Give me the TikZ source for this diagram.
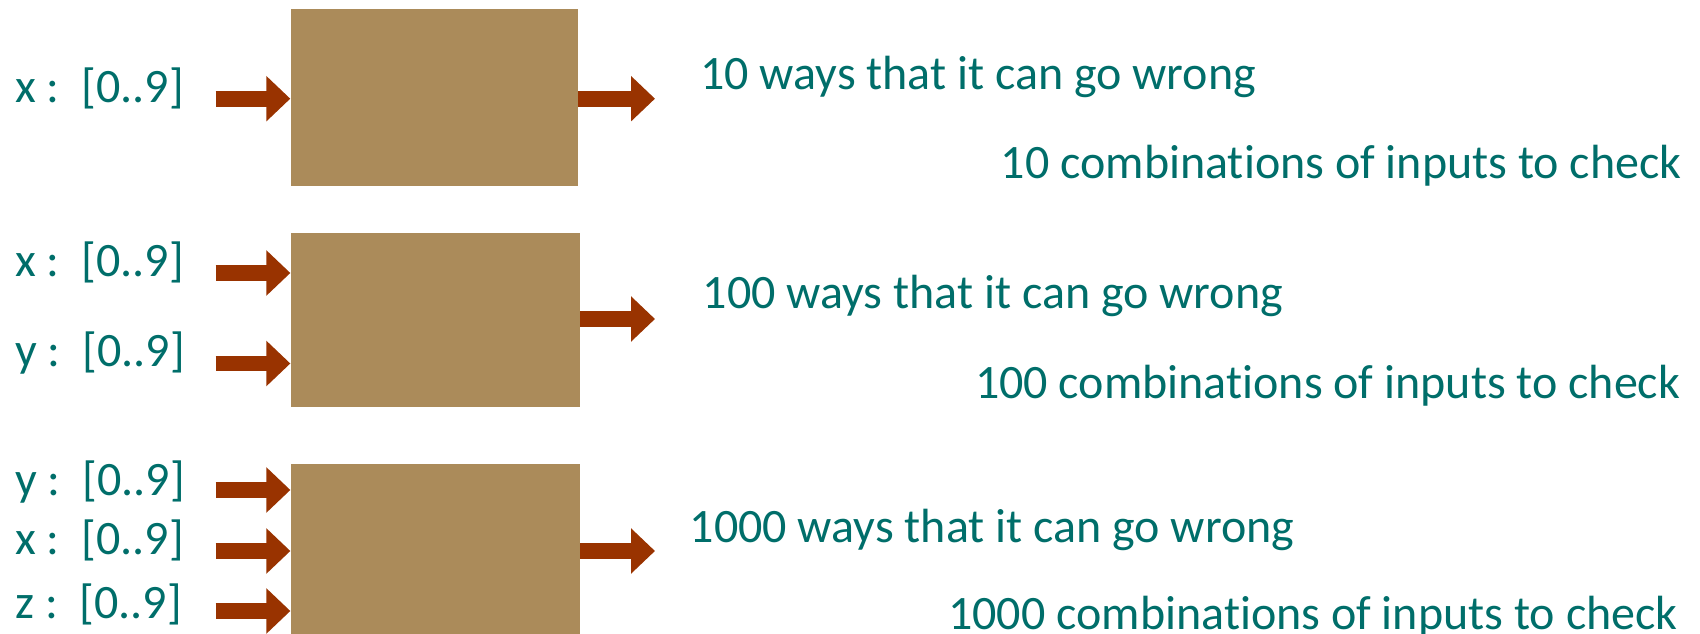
\documentclass[tikz,border=0pt]{standalone}
\usepackage{fontspec}
\setmainfont{Carlito}[Ligatures=NoCommon]
\usetikzlibrary{arrows.meta}
\definecolor{tealtext}{HTML}{006E6A}
\definecolor{boxfill}{HTML}{AB8B5A}
\definecolor{arrowred}{HTML}{993300}
\begin{document}
\begin{tikzpicture}[x=0.75pt,y=-0.75pt,
  box/.style={fill=boxfill, draw=none, inner sep=0pt},
  blockarrow/.style={draw=arrowred, line width=11.8pt, line cap=butt,
    -{Triangle[length=18pt,width=33pt,fill=arrowred]}},
  lbl/.style={text=tealtext, font=\fontsize{36}{42}\selectfont, inner sep=0pt},
]
\useasboundingbox (0,0) rectangle (1700,634);

% processing boxes
\node[box, minimum width=215.5pt, minimum height=133.35pt] (b1) at (434.25,97.6) {};
\node[box, minimum width=217pt, minimum height=130.2pt] (b2) at (435.3,319.8) {};
\node[box, minimum width=217pt, minimum height=127.5pt] (b3) at (435.3,549) {};

% input labels
\node[lbl, anchor=base west] (l1x) at (15,103) {x :\ \ [0..9]};
\node[lbl, anchor=base west] (l2x) at (15,276.5) {x :\ \ [0..9]};
\node[lbl, anchor=base west] (l2y) at (15,366.5) {y :\ \ [0..9]};
\node[lbl, anchor=base west] (l3y) at (15,495.5) {y :\ \ [0..9]};
\node[lbl, anchor=base west] (l3x) at (15,554) {x :\ \ [0..9]};
\node[lbl, anchor=base west] (l3z) at (15,618) {z :\ \ [0..9]};

% arrow ends
\coordinate (i1) at (215.6,98.7);
\coordinate (i2a) at (215.6,273);
\coordinate (i2b) at (215.6,363.5);
\coordinate (i3a) at (215.6,490);
\coordinate (i3b) at (215.6,551);
\coordinate (i3c) at (215.6,611);
\coordinate (o1) at (655,98.7);
\coordinate (o2) at (655,319);
\coordinate (o3) at (655,551);

% arrows into the boxes
\draw[blockarrow] (i1) -- (i1 -| b1.west);
\draw[blockarrow] (i2a) -- (i2a -| b2.west);
\draw[blockarrow] (i2b) -- (i2b -| b2.west);
\draw[blockarrow] (i3a) -- (i3a -| b3.west);
\draw[blockarrow] (i3b) -- (i3b -| b3.west);
\draw[blockarrow] (i3c) -- (i3c -| b3.west);

% arrows out of the boxes
\draw[blockarrow] (o1 -| b1.east) -- (o1);
\draw[blockarrow] (o2 -| b2.east) -- (o2);
\draw[blockarrow] (o3 -| b3.east) -- (o3);

% outcome texts
\node[lbl, anchor=base west] (w1) at (700,90) {10 ways that it can go wrong};
\node[lbl, anchor=base east] (c1) at (1682,179) {10 combinations of inputs to check};
\node[lbl, anchor=base west] (w2) at (702.6,309) {100 ways that it can go wrong};
\node[lbl, anchor=base east] (c2) at (1680.5,399) {100 combinations of inputs to check};
\node[lbl, anchor=base west] (w3) at (689.5,542) {1000 ways that it can go wrong};
\node[lbl, anchor=base east] (c3) at (1678,629) {1000 combinations of inputs to check};
\end{tikzpicture}
\end{document}
